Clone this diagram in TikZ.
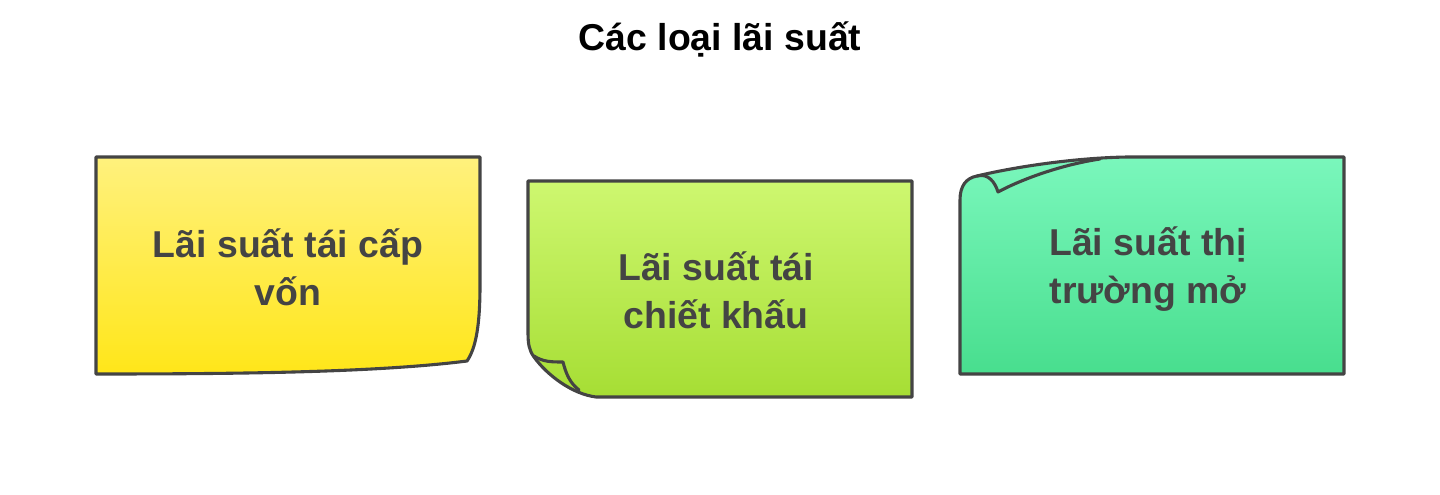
\documentclass[tikz,border=0pt]{standalone}
\usepackage{fontspec}
\setmainfont{Liberation Sans}
\usepackage{tikz}
\usetikzlibrary{positioning}
\definecolor{inkgray}{RGB}{68,68,68}
\definecolor{yellowtop}{RGB}{255,241,125}
\definecolor{yellowbot}{RGB}{255,230,25}
\definecolor{limetop}{RGB}{206,247,112}
\definecolor{limebot}{RGB}{166,222,52}
\definecolor{tealtop}{RGB}{122,247,188}
\definecolor{tealbot}{RGB}{72,222,142}
\tikzstyle{note} = [draw = inkgray, line width = 2.2pt, line join = round]
\tikzstyle{fold} = [draw = inkgray, line width = 2.2pt, line join = round, line cap = round]
\tikzstyle{label} = [text = inkgray, font = \fontsize{26.6}{34}\selectfont\bfseries, align = center]

\begin{document}
\begin{tikzpicture}[x = 0.025cm, y = -0.025cm]
	
		\useasboundingbox (0,0) rectangle (1440,494);
		
		% Title
		\node[font = \fontsize{26.6}{34}\selectfont\bfseries] (title) at (720,39) {Các loại lãi suất};
		
		% Yellow note
		\draw[note, top color = yellowtop, bottom color = yellowbot]
		(96,157) -- (480,157) -- (480,285) .. controls (480,325) and (476,348) .. (467,361)
		.. controls (380,372) and (250,374) .. (96,374) -- cycle;
		\node[label] (refinance) at (288,267) {Lãi suất tái cấp\\vốn};
		
		% Lime note
		\draw[note, top color = limetop, bottom color = limebot]
		(528,181) -- (912,181) -- (912,397) -- (596,397)
		.. controls (572,394) and (547,375) .. (534,357)
		.. controls (529,350) and (528,344) .. (528,332) -- cycle;
		\draw[fold] (534,356) .. controls (543,362) and (552,362) .. (563,362)
		.. controls (566,374) and (570,383) .. (579,390);
		\node[label] (discount) at (716,290) {Lãi suất tái\\chiết khấu};
		
		% Teal note
		\draw[note, top color = tealtop, bottom color = tealbot]
		(1344,157) -- (1344,374) -- (960,374) -- (960,200)
		.. controls (960,186) and (966,178) .. (977,176)
		.. controls (1010,168) and (1070,158) .. (1127,157) -- cycle;
		\draw[fold] (977,176) .. controls (988,173) and (995,182) .. (998,192)
		.. controls (1020,180) and (1060,165) .. (1100,159);
		\node[label] (openmarket) at (1148,269) {Lãi suất thị\\trường mở};
		
	\end{tikzpicture}
\end{document}
